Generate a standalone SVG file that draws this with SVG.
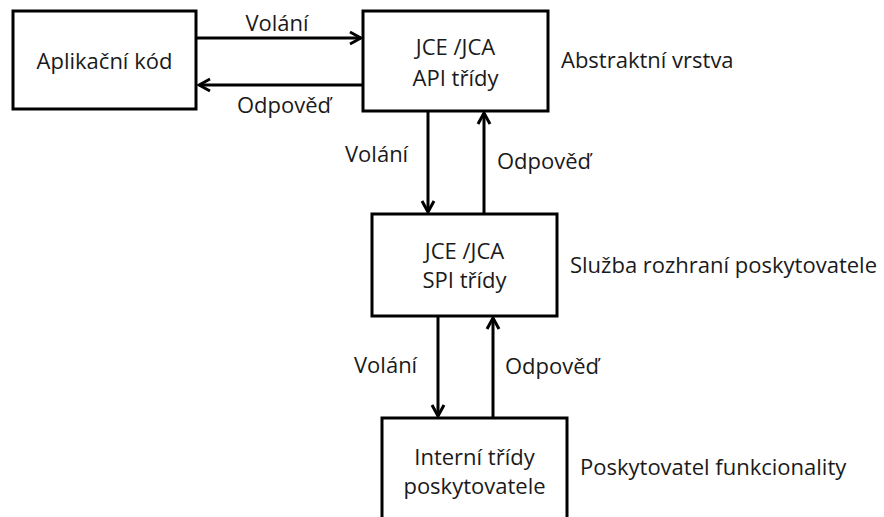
<svg xmlns="http://www.w3.org/2000/svg" width="884" height="517" viewBox="0 0 884 517">
  <style>
    .box { fill: #ffffff; stroke: #000000; stroke-width: 3; }
    .lbl { font-family: "Open Sans", "Liberation Sans", sans-serif; font-size: 22px; fill: #1a1a1a; }
    .mid { text-anchor: middle; }
    .wire { stroke: #000000; stroke-width: 3; fill: none; marker-end: url(#head); }
  </style>
  <defs>
    <marker id="head" markerUnits="userSpaceOnUse" markerWidth="16" markerHeight="16" viewBox="-14 -8 16 16" refX="0" refY="0" orient="auto">
      <path d="M-11,-6 L0,0 L-11,6" fill="none" stroke="#000000" stroke-width="3" stroke-linejoin="miter"/>
    </marker>
  </defs>
  <rect width="884" height="517" fill="#ffffff"/>

  <g id="app-code">
    <rect class="box" x="13" y="11" width="183" height="98"/>
    <text class="lbl mid" x="104.5" y="69">Aplikační kód</text>
  </g>

  <g id="api-classes">
    <rect class="box" x="363" y="11" width="185" height="100"/>
    <text class="lbl mid" x="455.5" y="55">JCE /JCA</text>
    <text class="lbl mid" x="455.5" y="86">API třídy</text>
    <text class="lbl" x="561" y="68">Abstraktní vrstva</text>
  </g>

  <g id="spi-classes">
    <rect class="box" x="372" y="214" width="185" height="102"/>
    <text class="lbl mid" x="464.5" y="259">JCE /JCA</text>
    <text class="lbl mid" x="464.5" y="288">SPI třídy</text>
    <text class="lbl" x="570" y="273">Služba rozhraní poskytovatele</text>
  </g>

  <g id="provider-internals">
    <rect class="box" x="382" y="418" width="185" height="110"/>
    <text class="lbl mid" x="474.5" y="465">Interní třídy</text>
    <text class="lbl mid" x="474.5" y="494">poskytovatele</text>
    <text class="lbl" x="580" y="475">Poskytovatel funkcionality</text>
  </g>

  <g id="connectors">
    <line class="wire" x1="196" y1="38" x2="361" y2="38"/>
    <line class="wire" x1="363" y1="85" x2="199" y2="85"/>
    <line class="wire" x1="428" y1="111" x2="428" y2="212"/>
    <line class="wire" x1="484" y1="214" x2="484" y2="113"/>
    <line class="wire" x1="438" y1="316" x2="438" y2="416"/>
    <line class="wire" x1="493" y1="418" x2="493" y2="318"/>
    <text class="lbl mid" x="277" y="31">Volání</text>
    <text class="lbl mid" x="284" y="113">Odpověď</text>
    <text class="lbl" x="345" y="162">Volání</text>
    <text class="lbl" x="497" y="169">Odpověď</text>
    <text class="lbl" x="354" y="373">Volání</text>
    <text class="lbl" x="505" y="374">Odpověď</text>
  </g>
</svg>
